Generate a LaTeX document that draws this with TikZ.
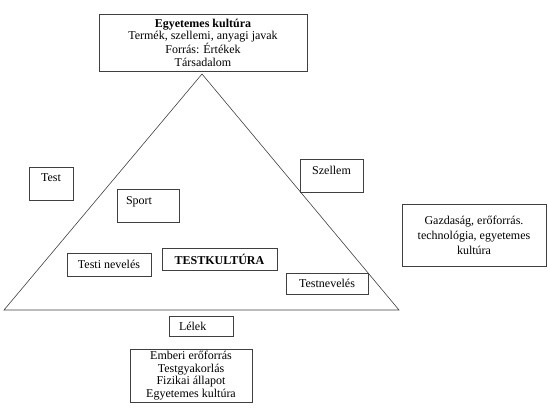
\documentclass[tikz,border=0pt]{standalone}
\usepackage{fontspec}
\setmainfont{Liberation Serif}
\begin{document}
\begin{tikzpicture}[x=1pt,y=-1pt,font=\fontsize{12}{12.5}\selectfont,
  box/.style={draw=black!75, line width=0.6pt, inner sep=0pt, align=center},
  topbox/.style={box, inner ysep=0pt, text height=15pt, text depth=18pt}]

  \useasboundingbox (0,0) rectangle (548,417);

  % triangle
  \coordinate (csucs) at (202,74);
  \coordinate (bal) at (4,310);
  \coordinate (jobb) at (399,310);
  \draw[draw=black!75, line width=0.6pt] (csucs) -- (bal) -- (jobb) -- cycle;

  \node[box, minimum width=208, minimum height=57] (kultura) at (203,42.5)
    {\textbf{Egyetemes kultúra}\\Termék, szellemi, anyagi javak\\Forrás: Értékek\\Társadalom};

  \node[topbox, minimum width=44, text height=14pt, text depth=19pt] (test) at (51,183.5) {Test};
  \node[topbox, text width=44pt, align=left, inner xsep=9pt] (sport) at (148,205.5) {Sport};
  \node[topbox, minimum width=63] (szellem) at (331.5,175.5) {Szellem};

  \node[box, minimum width=84, minimum height=23] (testinev) at (109,264.5) {Testi nevelés};
  \node[box, minimum width=115, minimum height=22, font=\fontsize{12}{12.5}\selectfont\bfseries] (testkult) at (219.5,259) {TESTKULTÚRA};
  \node[box, minimum width=82, minimum height=21] (testnev) at (327,283.5) {Testnevelés};

  \node[box, minimum width=144, minimum height=62, font=\fontsize{12}{15}\selectfont] (gazdasag) at (474,235)
    {Gazdaság, erőforrás.\\technológia, egyetemes\\kultúra};

  \node[box, text width=44pt, align=left, inner xsep=10pt, minimum height=20] (lelek) at (201,326) {Lélek};
  \node[box, minimum width=122, minimum height=53] (ember) at (191,375.5)
    {Emberi erőforrás\\Testgyakorlás\\Fizikai állapot\\Egyetemes kultúra};

\end{tikzpicture}
\end{document}
